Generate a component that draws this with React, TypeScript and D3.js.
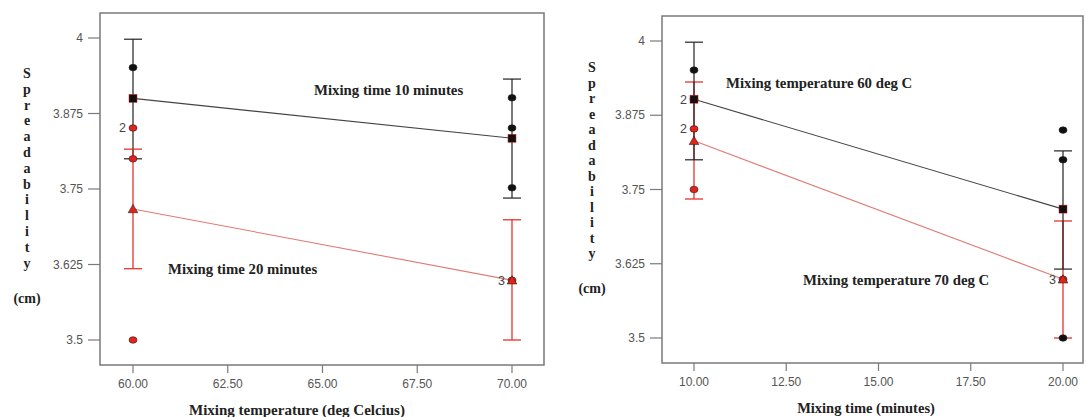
import React from 'react';
import * as d3 from 'd3';

// left panel: spreadability vs mixing temperature
const tempLevels = [60, 70];
const tempTicks = [60, 62.5, 65, 67.5, 70];
const time10Mean = [3.900, 3.834];
const time10Low = [3.800, 3.735];
const time10High = [3.998, 3.932];
const time20Mean = [3.717, 3.599];
const time20Low = [3.618, 3.500];
const time20High = [3.816, 3.699];
const time10Obs = [[3.951], [3.901, 3.851, 3.752]];
const time20Obs = [[3.851, 3.800, 3.500], [3.599]];
const leftCounts = [{x: 60, y: 3.851, n: '2'}, {x: 70, y: 3.599, n: '3'}];

// right panel: spreadability vs mixing time
const timeLevels = [10, 20];
const timeTicks = [10, 12.5, 15, 17.5, 20];
const temp60Mean = [3.902, 3.717];
const temp60Low = [3.800, 3.616];
const temp60High = [3.998, 3.815];
const temp70Mean = [3.832, 3.599];
const temp70Low = [3.734, 3.500];
const temp70High = [3.931, 3.697];
const temp60Obs = [[3.951], [3.850, 3.800, 3.500]];
const temp70Obs = [[3.902, 3.852, 3.750], [3.599]];
const rightCounts = [{x: 10, y: 3.902, n: '2'}, {x: 10, y: 3.852, n: '2'}, {x: 20, y: 3.599, n: '3'}];

const yTicks = [3.5, 3.625, 3.75, 3.875, 4];
const yLetters = 'Spreadability'.split('');

const BLACK = '#111';
const RED = '#e2231a';
const REDLINE = '#e07a74';
const GRID = '#7a7a7a';
const serif = '"Liberation Serif", "DejaVu Serif", serif';
const sans = '"Liberation Sans", Arial, sans-serif';

type Series = {mean: number[]; low: number[]; high: number[]; obs: number[][]; color: string; line: string; shape: 'square' | 'triangle'};

const Panel = ({cfg, levels, ticks, series, counts, title, notes}: any) => {
  const x = d3.scaleLinear().domain(cfg.xd).range(cfg.xr);
  const y = d3.scaleLinear().domain([3.5, 4]).range(cfg.yr);
  const {x0, y0, x1, y1} = cfg.frame;
  const line = d3.line<number>().x((_, i) => x(levels[i])).y(d => y(d));
  return (
    <g>
      <rect x={x0} y={y0} width={x1 - x0} height={y1 - y0} fill="none" stroke={GRID} strokeWidth={1.5} />
      {yTicks.map(t => (
        <g key={t}>
          <line x1={x0 - 12} x2={x0} y1={y(t)} y2={y(t)} stroke={GRID} strokeWidth={1.2} />
          <text x={x0 - 17} y={y(t)} dy="0.35em" textAnchor="end" fontFamily={sans} fontSize={12} fill="#555">{String(t)}</text>
        </g>
      ))}
      {ticks.map((t: number) => (
        <g key={t}>
          <line x1={x(t)} x2={x(t)} y1={y1} y2={y1 + 8} stroke={GRID} strokeWidth={1.2} />
          <text x={x(t)} y={y1 + 23} textAnchor="middle" fontFamily={sans} fontSize={12} fill="#555">{d3.format('.2f')(t)}</text>
        </g>
      ))}
      <text x={cfg.titleX} y={y1 + 50} textAnchor="middle" fontFamily={serif} fontWeight="bold" fontSize={cfg.titleSize} fill="#222">{title}</text>
      {yLetters.map((c, i) => (
        <text key={i} x={cfg.labX} y={cfg.labY + i * cfg.labStep} textAnchor="middle" fontFamily={serif} fontWeight="bold" fontSize={14} fill="#222">{c}</text>
      ))}
      <text x={cfg.labX} y={cfg.cmY} textAnchor="middle" fontFamily={serif} fontWeight="bold" fontSize={14} fill="#222">(cm)</text>
      {series.map((s: Series, k: number) => (
        <g key={k}>
          <path d={line(s.mean) || ''} fill="none" stroke={s.line} strokeWidth={1.1} />
          {levels.map((lv: number, i: number) => (
            <g key={i} stroke={s.line === REDLINE ? RED : '#222'} strokeWidth={1.2}>
              <line x1={x(lv)} x2={x(lv)} y1={y(s.low[i])} y2={y(s.high[i])} />
              <line x1={x(lv) - 9} x2={x(lv) + 9} y1={y(s.low[i])} y2={y(s.low[i])} />
              <line x1={x(lv) - 9} x2={x(lv) + 9} y1={y(s.high[i])} y2={y(s.high[i])} />
            </g>
          ))}
        </g>
      ))}
      {series.map((s: Series, k: number) => (
        <g key={k}>
          {levels.map((lv: number, i: number) => (
            <g key={i}>
              {s.obs[i].map((v, j) => (
                <ellipse key={j} cx={x(lv)} cy={y(v)} rx={4} ry={3.3} fill={s.color} stroke="#222" strokeWidth={0.6} />
              ))}
            </g>
          ))}
        </g>
      ))}
      {series.map((s: Series, k: number) => (
        <g key={k}>
          {levels.map((lv: number, i: number) => s.shape === 'square' ? (
            <rect key={i} x={x(lv) - 4} y={y(s.mean[i]) - 4} width={8} height={8} fill={BLACK} stroke={RED} strokeWidth={0.5} />
          ) : (
            <path key={i} d={d3.symbol(d3.symbolTriangle, 40)() || ''} transform={`translate(${x(lv)},${y(s.mean[i]) + 1})`} fill={RED} stroke="#222" strokeWidth={0.6} />
          ))}
        </g>
      ))}
      {counts.map((c: any, i: number) => (
        <text key={i} x={x(c.x) - 7} y={y(c.y)} dy="0.35em" textAnchor="end" fontFamily={sans} fontSize={12.5} fill="#444">{c.n}</text>
      ))}
      {notes.map((n: any, i: number) => (
        <text key={i} x={n.x} y={n.y} dy="0.35em" fontFamily={serif} fontWeight="bold" fontSize={14.8} fill="#222">{n.text}</text>
      ))}
    </g>
  );
};

const App = () => {
  const leftCfg = {frame: {x0: 100, y0: 13, x1: 544, y1: 365}, xd: [60, 70], xr: [133, 512], yr: [340, 38], titleX: 297, titleSize: 15, labX: 27, labY: 78, labStep: 15.8, cmY: 303};
  const rightCfg = {frame: {x0: 662, y0: 16, x1: 1083, y1: 363}, xd: [10, 20], xr: [694, 1063], yr: [338, 41], titleX: 866, titleSize: 14.5, labX: 592, labY: 72, labStep: 15.5, cmY: 293};
  const leftSeries: Series[] = [
    {mean: time10Mean, low: time10Low, high: time10High, obs: time10Obs, color: BLACK, line: '#444', shape: 'square'},
    {mean: time20Mean, low: time20Low, high: time20High, obs: time20Obs, color: RED, line: REDLINE, shape: 'triangle'},
  ];
  const rightSeries: Series[] = [
    {mean: temp70Mean, low: temp70Low, high: temp70High, obs: temp70Obs, color: RED, line: REDLINE, shape: 'triangle'},
    {mean: temp60Mean, low: temp60Low, high: temp60High, obs: temp60Obs, color: BLACK, line: '#444', shape: 'square'},
  ];
  return (
    <svg width={1086} height={417} style={{position: 'absolute', left: 0, top: 0, background: '#fff'}}>
      <Panel cfg={leftCfg} levels={tempLevels} ticks={tempTicks} series={leftSeries} counts={leftCounts}
        title="Mixing temperature (deg Celcius)"
        notes={[{x: 314, y: 90, text: 'Mixing time 10 minutes'}, {x: 168, y: 269, text: 'Mixing time 20 minutes'}]} />
      <Panel cfg={rightCfg} levels={timeLevels} ticks={timeTicks} series={rightSeries} counts={rightCounts}
        title="Mixing time (minutes)"
        notes={[{x: 726, y: 83, text: 'Mixing temperature 60 deg C'}, {x: 803, y: 280, text: 'Mixing temperature 70 deg C'}]} />
    </svg>
  );
};

export default App;
